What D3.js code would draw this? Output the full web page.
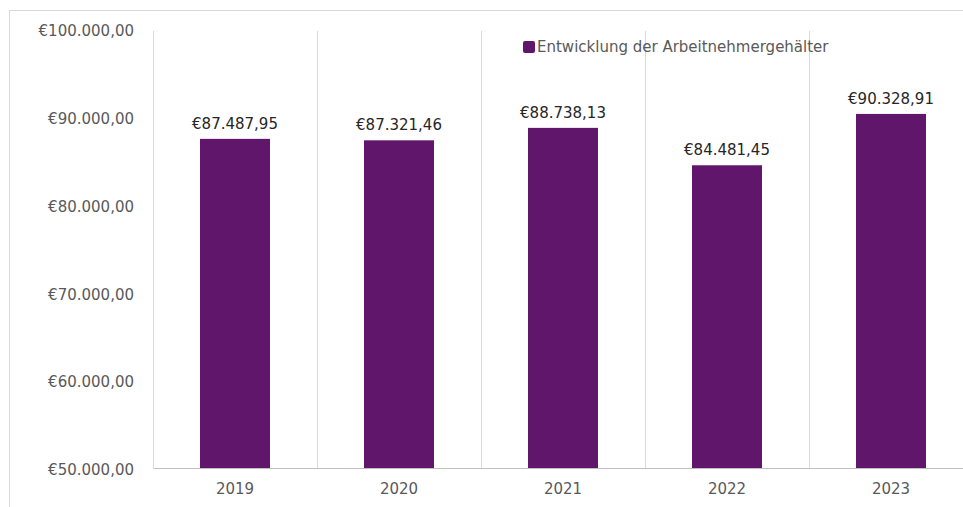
<!DOCTYPE html>
<html>
<head>
<meta charset="utf-8">
<script src="https://cdn.jsdelivr.net/npm/d3@7"></script>
<style>
  body { margin: 0; background: #fff; }
  svg { display: block; font-family: "DejaVu Sans", sans-serif; }
</style>
</head>
<body>
<svg id="chart" width="963" height="507"></svg>
<script>
const years = ["2019", "2020", "2021", "2022", "2023"];
const salaries = [87487.95, 87321.46, 88738.13, 84481.45, 90328.91];
const yTicks = [50000, 60000, 70000, 80000, 90000, 100000];
const seriesName = "Entwicklung der Arbeitnehmergehälter";

const barColor = "#60176b";
const FONT = "DejaVu Sans, sans-serif";

const svg = d3.select("#chart");
const margin = { top: 29, left: 153, bottom: 39 };
const plotRight = 973;
const height = +svg.attr("height");

// German style currency format: €87.487,95
const de = d3.formatLocale({
  decimal: ",",
  thousands: ".",
  grouping: [3],
  currency: ["€", ""]
});
const euro = de.format("$,.2f");

// outer frame
svg.append("rect")
  .attr("x", 9.5)
  .attr("y", 10.5)
  .attr("width", 963)
  .attr("height", 520)
  .attr("fill", "none")
  .attr("stroke", "#d9d9d9");

const x = d3.scaleBand()
  .domain(years)
  .range([margin.left, plotRight])
  .paddingInner(0)
  .paddingOuter(0);

const y = d3.scaleLinear()
  .domain([50000, 100000])
  .range([height - margin.bottom, margin.top]);

// vertical category separators
const g = svg.append("g");
const seps = years.map((d) => x(d)).concat([x(years[years.length - 1]) + x.bandwidth()]);
g.selectAll("line.sep")
  .data(seps)
  .enter()
  .append("line")
  .attr("class", "sep")
  .attr("x1", (d) => Math.round(d) + 0.5)
  .attr("x2", (d) => Math.round(d) + 0.5)
  .attr("y1", 31)
  .attr("y2", y(50000))
  .attr("stroke", "#d9d9d9");

// bars
const barW = 70;
g.selectAll("rect.bar")
  .data(salaries)
  .enter()
  .append("rect")
  .attr("class", "bar")
  .attr("x", (d, i) => x(years[i]) + x.bandwidth() / 2 - barW / 2)
  .attr("y", (d) => y(d))
  .attr("width", barW)
  .attr("height", (d) => y(50000) - y(d))
  .attr("fill", barColor);

// data labels
g.selectAll("text.val")
  .data(salaries)
  .enter()
  .append("text")
  .attr("class", "val")
  .attr("x", (d, i) => x(years[i]) + x.bandwidth() / 2)
  .attr("y", (d) => y(d) - 10)
  .attr("text-anchor", "middle")
  .attr("font-size", 15)
  .attr("fill", "#262626")
  .text((d) => euro(d));

// x axis
const xAxis = svg.append("g")
  .attr("transform", "translate(0," + y(50000) + ")")
  .call(d3.axisBottom(x).tickSize(0).tickPadding(15));
xAxis.select(".domain").attr("stroke", "#bfbfbf");
xAxis.selectAll("text")
  .attr("font-size", 15)
  .attr("fill", "#595959")
  .attr("font-family", FONT);

// y axis
const yAxis = svg.append("g")
  .attr("transform", "translate(" + margin.left + ",0)")
  .call(d3.axisLeft(y).tickValues(yTicks).tickSize(0).tickPadding(19).tickFormat(euro));
yAxis.select(".domain").remove();
yAxis.selectAll("text")
  .attr("font-size", 15)
  .attr("dy", "0.45em")
  .attr("fill", "#595959")
  .attr("font-family", FONT);

// legend
const legend = svg.append("g").attr("transform", "translate(523,47)");
legend.append("rect")
  .attr("x", 0)
  .attr("y", -6)
  .attr("width", 12)
  .attr("height", 12)
  .attr("rx", 2)
  .attr("fill", barColor);
legend.append("text")
  .attr("x", 14)
  .attr("y", 0)
  .attr("dy", "0.35em")
  .attr("font-size", 15)
  .attr("fill", "#595959")
  .text(seriesName);
</script>
</body>
</html>
